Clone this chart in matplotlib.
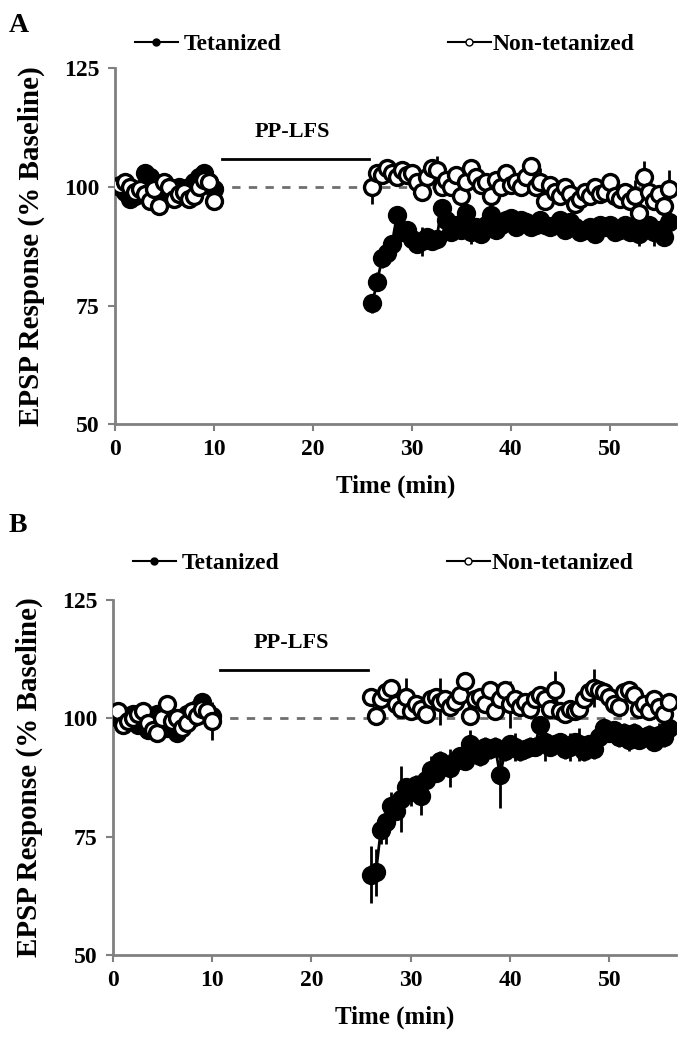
import matplotlib
matplotlib.use("Agg")
import matplotlib.pyplot as plt
from matplotlib.lines import Line2D

plt.rcParams['font.family'] = ['Liberation Serif', 'DejaVu Serif']
plt.rcParams['font.weight'] = 'bold'

# ---------------- data ----------------
t_base = [0.5, 1.0, 1.5, 2.0, 2.5, 3.0, 3.5, 4.0, 4.5, 5.0,
          5.5, 6.0, 6.5, 7.0, 7.5, 8.0, 8.5, 9.0, 9.5, 10.0]
t_post = [26.0, 26.5, 27.0, 27.5, 28.0, 28.5, 29.0, 29.5, 30.0, 30.5,
          31.0, 31.5, 32.0, 32.5, 33.0, 33.5, 34.0, 34.5, 35.0, 35.5,
          36.0, 36.5, 37.0, 37.5, 38.0, 38.5, 39.0, 39.5, 40.0, 40.5,
          41.0, 41.5, 42.0, 42.5, 43.0, 43.5, 44.0, 44.5, 45.0, 45.5,
          46.0, 46.5, 47.0, 47.5, 48.0, 48.5, 49.0, 49.5, 50.0, 50.5,
          51.0, 51.5, 52.0, 52.5, 53.0, 53.5, 54.0, 54.5, 55.0, 55.5, 56.0]

# Panel A
a_tet_base = [100, 99, 97.5, 98, 99, 103, 102, 101, 99, 98,
              98, 99, 100, 99, 100, 101, 102, 103, 101, 99.5]
a_tet_base_err = [1.5] * 20
a_non_base = [100.5, 101, 100, 99, 99.5, 98.5, 97, 99.5, 96, 101,
              100, 97.5, 98.5, 99, 97.5, 98, 100, 101.5, 101, 97]
a_non_base_err = [1.5] * 20
a_tet_post = [75.5, 80, 85, 86, 88, 94, 90.5, 91, 89, 88,
              88.5, 89.5, 88.5, 89, 95.5, 93, 90.5, 92, 91, 94.5,
              90.5, 91.5, 90, 92, 94, 91, 92, 93, 93.5, 91.5,
              93, 92.5, 91.5, 92, 93, 92, 91.5, 92, 93, 91,
              92.5, 91.5, 90.5, 91, 91.5, 90, 92, 91.5, 92, 90.5,
              91, 92, 90.5, 91.5, 90, 91, 92, 90.5, 91, 89.5, 92.5]
a_tet_post_err = [2, 2, 2, 1.5, 1.5, 1.5, 1.5, 1.5, 1.5, 1.5,
                  3, 1.5, 1.5, 1.5, 1.5, 1.5, 1.5, 1.5, 1.5, 1.5,
                  2.5, 1.5, 1.5, 1.5, 1.5, 1.5, 1.5, 1.5, 1.5, 1.5,
                  1.5, 1.5, 1.5, 1.5, 1.5, 1.5, 1.5, 1.5, 1.5, 1.5,
                  1.5, 1.5, 1.5, 1.5, 1.5, 1.5, 1.5, 1.5, 1.5, 1.5,
                  1.5, 1.5, 1.5, 1.5, 2.5, 1.5, 1.5, 3, 1.5, 1.5, 2]
a_non_post = [100, 103, 102.5, 104, 103, 102, 103.5, 102.5, 103, 101,
              99, 102, 104, 103.5, 100, 101.5, 100, 102.5, 98, 101,
              104, 102, 100.5, 101, 98, 101.5, 100, 103, 100.5, 101,
              100, 102, 104.5, 100, 101, 97, 100.5, 99, 98, 100,
              98.5, 96.5, 97.5, 99, 98, 100, 98.5, 99, 101, 98,
              97.5, 99, 97, 98, 94.5, 102, 99, 97, 98.5, 96, 99.5]
a_non_post_err = [3.5, 1.5, 1.5, 1.5, 1.5, 1.5, 1.5, 1.5, 1.5, 1.5,
                  1.5, 1.5, 1.5, 3, 1.5, 1.5, 1.5, 1.5, 1.5, 1.5,
                  1.5, 1.5, 1.5, 1.5, 1.5, 1.5, 1.5, 1.5, 1.5, 1.5,
                  1.5, 1.5, 1.5, 1.5, 3, 1.5, 1.5, 1.5, 1.5, 1.5,
                  1.5, 1.5, 1.5, 1.5, 1.5, 1.5, 1.5, 1.5, 1.5, 1.5,
                  1.5, 1.5, 1.5, 3.5, 1.5, 3.5, 1.5, 1.5, 1.5, 1.5, 4]

# Panel B
b_tet_base = [100, 99, 100.5, 101, 98.5, 99, 97.5, 100, 101, 99,
              98, 100, 97, 99.5, 101, 100, 102, 103.5, 101, 100.5]
b_tet_base_err = [1.5] * 20
b_non_base = [101.5, 98.5, 99.5, 100, 101, 101.5, 99, 97.5, 97, 100,
              103, 99.5, 100, 98, 99, 101.5, 100.5, 102, 101.5, 99.5]
b_non_base_err = [1.5] * 19 + [4]
b_tet_post = [67, 67.5, 76.5, 78, 81.5, 80.5, 83, 85.5, 84.5, 86,
              83.5, 87, 89, 88.5, 91, 90, 89.5, 91, 92, 91,
              94.5, 93, 92, 94, 93.5, 94, 88, 93, 94.5, 94,
              93, 93.5, 94, 94, 98.5, 95, 94, 94.5, 95, 93.5,
              94, 95, 94.5, 93, 94.5, 93.5, 96, 98, 97, 97.5,
              96, 97, 95.5, 97, 95.5, 96, 96.5, 95, 96.5, 96, 98]
b_tet_post_err = [6, 5, 3, 4.5, 3, 2, 7, 2, 3, 2,
                  4, 2, 3, 2, 2, 2, 4, 2, 2, 2,
                  3, 2, 2, 2, 2, 2, 7, 2, 2, 3,
                  2, 2, 2, 2, 2, 4, 2, 2, 2, 2,
                  3, 2, 3.5, 2, 2, 2, 3, 2, 2, 2,
                  2, 2, 2.5, 2, 2, 2, 2, 2, 2.5, 2, 2]
b_non_post = [104.5, 100.5, 104, 105.5, 106.5, 103, 102, 104.5, 101.5, 103,
              102, 101, 104, 104.5, 103.5, 104, 102.5, 103.5, 105, 108,
              100.5, 104, 104.5, 103, 106, 101.5, 104, 106, 103, 104,
              102.5, 103.5, 102, 104, 105, 104, 102, 106, 101.5, 101,
              102, 101.5, 102, 104, 105.5, 106.5, 106, 105.5, 104.5, 103,
              102.5, 105.5, 106, 105, 102, 103, 101.5, 104, 102.5, 101, 103.5]
b_non_post_err = [1.5, 1.5, 1.5, 1.5, 1.5, 1.5, 1.5, 4, 1.5, 1.5,
                  1.5, 1.5, 1.5, 1.5, 5, 1.5, 1.5, 1.5, 3, 1.5,
                  1.5, 1.5, 1.5, 1.5, 1.5, 1.5, 1.5, 1.5, 5, 1.5,
                  1.5, 1.5, 1.5, 1.5, 1.5, 1.5, 1.5, 4, 1.5, 1.5,
                  1.5, 1.5, 1.5, 3, 1.5, 4, 1.5, 1.5, 1.5, 1.5,
                  1.5, 1.5, 1.5, 1.5, 1.5, 1.5, 1.5, 1.5, 3, 1.5, 1.5]

y_ticks = [50, 75, 100, 125]
x_ticks = [0, 10, 20, 30, 40, 50]
lfs_span = (10.8, 25.7)

# ---------------- figure ----------------
fig = plt.figure(figsize=(6.92, 10.5), dpi=100)
axA = fig.add_axes([0.166, 0.596, 0.811, 0.339])
axB = fig.add_axes([0.163, 0.0905, 0.8136, 0.338])

SPINE = '#808080'
MS = 11.5
MEW = 2.4


def draw_panel(ax, tet_b, tet_be, non_b, non_be, tet_p, tet_pe, non_p, non_pe,
               lfs_y, lfs_text_y, leg_y):
    ax.plot([0, 56.5], [100, 100], color='#6f6f6f', lw=2, ls=(0, (3, 3)), zorder=1)
    for tt, yy, ee in [(t_base, tet_b, tet_be), (t_post, tet_p, tet_pe)]:
        ax.errorbar(tt, yy, yerr=ee, fmt='-o', color='black', mfc='black', mec='black',
                    ms=MS, mew=MEW, lw=2, elinewidth=2, capsize=0, zorder=3)
    for tt, yy, ee in [(t_base, non_b, non_be), (t_post, non_p, non_pe)]:
        ax.errorbar(tt, yy, yerr=ee, fmt='-o', color='black', mfc='white', mec='black',
                    ms=MS, mew=MEW, lw=1.5, elinewidth=2, capsize=0, zorder=4)
    ax.plot(list(lfs_span), [lfs_y, lfs_y], color='black', lw=2, zorder=2)
    ax.text(sum(lfs_span) / 2 - 0.3, lfs_text_y, 'PP-LFS', ha='center', va='center',
            fontsize=16, fontweight='bold')
    ax.set_xlim(0, 56.7)
    ax.set_ylim(50, 125)
    ax.set_yticks(y_ticks)
    ax.set_xticks(x_ticks)
    for s in ['top', 'right']:
        ax.spines[s].set_visible(False)
    for s in ['left', 'bottom']:
        ax.spines[s].set_color(SPINE)
        ax.spines[s].set_linewidth(2)
    ax.tick_params(axis='both', colors=SPINE, width=1.5, length=5, labelsize=17,
                   labelcolor='black', pad=6)
    for lab in ax.get_xticklabels() + ax.get_yticklabels():
        lab.set_fontweight('bold')
    ax.set_xlabel('Time (min)', fontsize=18, fontweight='bold', labelpad=10)
    ax.set_ylabel('EPSP Response (% Baseline)', fontsize=21, fontweight='bold', labelpad=14)
    h1 = Line2D([], [], color='black', lw=1.5, marker='o', ms=5, mfc='black', mec='black')
    h2 = Line2D([], [], color='black', lw=1.5, marker='o', ms=5, mfc='white', mec='black')
    l1 = ax.legend([h1], ['Tetanized'], loc='center left', bbox_to_anchor=(0.036, leg_y),
                   frameon=False, borderpad=0, borderaxespad=0, handlelength=1.8,
                   handletextpad=0.25, prop={'size': 17, 'weight': 'bold'})
    ax.add_artist(l1)
    ax.legend([h2], ['Non-tetanized'], loc='center left', bbox_to_anchor=(0.594, leg_y),
              frameon=False, borderpad=0, borderaxespad=0, handlelength=1.8,
              handletextpad=0.1, prop={'size': 17, 'weight': 'bold'})


draw_panel(axA, a_tet_base, a_tet_base_err, a_non_base, a_non_base_err,
           a_tet_post, a_tet_post_err, a_non_post, a_non_post_err,
           105.9, 111.6, 1.067)
draw_panel(axB, b_tet_base, b_tet_base_err, b_non_base, b_non_base_err,
           b_tet_post, b_tet_post_err, b_non_post, b_non_post_err,
           110.3, 116.0, 1.104)

fig.text(0.012, 0.976, 'A', fontsize=20, fontweight='bold', ha='left', va='center')
fig.text(0.012, 0.500, 'B', fontsize=20, fontweight='bold', ha='left', va='center')

fig.savefig('out.png', dpi=100)
